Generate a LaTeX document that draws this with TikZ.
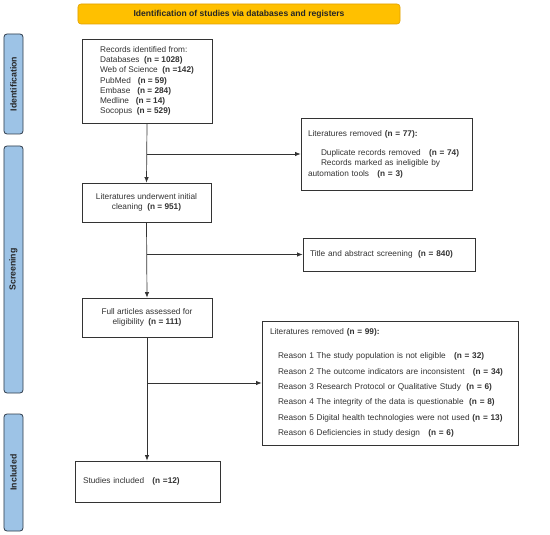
\documentclass[tikz,border=0pt]{standalone}
\usepackage{fontspec}
\setmainfont{Liberation Sans}
\usetikzlibrary{arrows.meta}
\definecolor{sideblue}{HTML}{9DC3E6}
\definecolor{sideedge}{HTML}{2F3B4A}
\definecolor{banner}{HTML}{FFC000}
\definecolor{banneredge}{HTML}{E0A000}
\definecolor{boxedge}{HTML}{333333}
\definecolor{txt}{HTML}{333333}
\begin{document}
\begin{tikzpicture}[x=1bp,y=-1bp,
  box/.style={draw=boxedge, line width=0.9pt, fill=white, inner sep=0pt, text=txt,
    font=\fontsize{8.3}{10.2}\selectfont},
  side/.style={draw=sideedge, fill=sideblue, rounded corners=3pt, line width=0.8pt,
    inner sep=0pt},
  sidetext/.style={rotate=90, font=\bfseries\fontsize{8.8}{10}\selectfont, text=black!85},
  arr/.style={-{Latex[length=5.5bp,width=4.5bp]}, line width=0.7pt, draw=black!80},
]
\useasboundingbox (0,0) rectangle (550,535);

% banner
\node[draw=banneredge, fill=banner, rounded corners=3pt, line width=0.6pt,
  minimum width=322bp, minimum height=20bp, inner sep=0pt,
  font=\bfseries\fontsize{8.6}{9}\selectfont, text=black!85] (banner) at (239,14)
  {Identification of studies via databases and registers};

% side bars
\node[side, minimum width=19bp, minimum height=100bp] (sid) at (13.5,84) {};
\node[sidetext] (sidl) at (sid.center) {Identification};
\node[side, minimum width=19bp, minimum height=247bp] (sscr) at (13.5,269.5) {};
\node[sidetext] (sscrl) at (sscr.center) {Screening};
\node[side, minimum width=19bp, minimum height=117bp] (sinc) at (13.5,472.5) {};
\node[sidetext] (sincl) at (sinc.center) {Included};

% boxes
\node[box, minimum width=130bp, minimum height=84bp, align=left] (records) at (147,81)
  {Records identified from:\\
   Databases\ \ \textbf{(n = 1028)}\\
   Web of Science\ \ \textbf{(n =142)}\\
   PubMed\ \ \ \textbf{(n = 59)}\\
   Embase\ \ \ \textbf{(n = 284)}\\
   Medline\ \ \ \textbf{(n = 14)}\\
   Socopus\ \ \textbf{(n = 529)}};

\node[box, minimum width=171bp, minimum height=72bp, align=left, inner xsep=7bp,
  text width=157bp, font=\fontsize{8.3}{10.5}\selectfont] (rem1) at (386.5,154)
  {Literatures removed \textbf{(n = 77):}\\[8.5bp]
   \hspace*{13bp}Duplicate records removed\ \ \ \textbf{(n = 74)}\\
   \hspace*{13bp}Records marked as ineligible by\\
   automation tools\ \ \ \textbf{(n = 3)}};

\node[box, minimum width=129bp, minimum height=39bp, align=center] (clean) at (146.5,202.5)
  {Literatures underwent initial\\ cleaning\ \ \textbf{(n = 951)}};

\node[box, minimum width=172bp, minimum height=33bp, align=left, inner xsep=7bp,
  text width=158bp] (title) at (389,254.5)
  {Title and abstract screening\ \ \textbf{(n = 840)}};

\node[box, minimum width=130bp, minimum height=39bp, align=center] (full) at (147,317.5)
  {Full articles assessed for\\ eligibility\ \ \textbf{(n = 111)}};

\node[box, minimum width=256bp, minimum height=124bp, align=left, inner xsep=8bp,
  text width=240bp, font=\fontsize{8.3}{15.4}\selectfont] (rem2) at (390,383)
  {Literatures removed \textbf{(n = 99):}\\[8.6bp]
   \hspace*{8bp}Reason 1 The study population is not eligible\ \ \ \textbf{(n = 32)}\\
   \hspace*{8bp}Reason 2 The outcome indicators are inconsistent\ \ \ \textbf{(n = 34)}\\
   \hspace*{8bp}Reason 3 Research Protocol or Qualitative Study\ \ \textbf{(n = 6)}\\
   \hspace*{8bp}Reason 4 The integrity of the data is questionable\ \ \textbf{(n = 8)}\\
   \hspace*{8bp}Reason 5 Digital health technologies were not used \textbf{(n = 13)}\\
   \hspace*{8bp}Reason 6 Deficiencies in study design\ \ \ \textbf{(n = 6)}};

\node[box, minimum width=145bp, minimum height=41bp, align=left, inner xsep=8bp,
  text width=129bp] (incl) at (147.5,481.5)
  {Studies included\ \ \ \textbf{(n =12)}};

% connectors
\draw[arr] (records.south) -- (clean.north);
\draw[arr] (records.south |- rem1.west) -- (rem1.west);
\draw[arr] (clean.south) -- (full.north);
\draw[arr] (clean.south |- title.west) -- (title.west);
\draw[arr] (full.south) -- (full.south |- incl.north);
\draw[arr] (full.south |- rem2.west) -- (rem2.west);
\end{tikzpicture}
\end{document}
